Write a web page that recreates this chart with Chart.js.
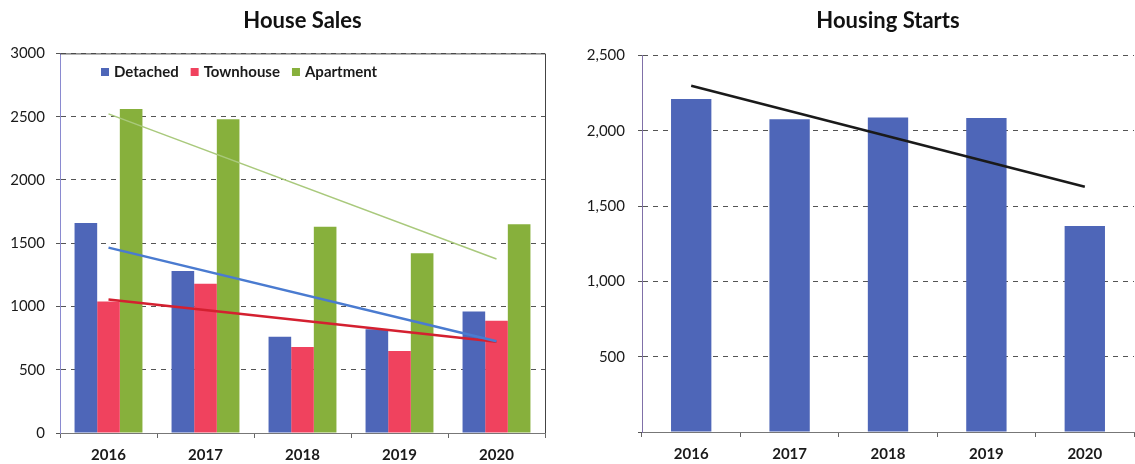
<!DOCTYPE html>
<html lang="en">
<head>
    <meta charset="UTF-8">
    <title>House Sales and Housing Starts</title>
    <script src="https://cdn.jsdelivr.net/npm/chart.js"></script>
    <style>
        body {
            margin: 0;
            background: #fff;
            font-family: Lato, sans-serif;
        }
        .wrap {
            display: flex;
            width: 1135px;
            height: 464px;
        }
        #salesBox { width: 560px; height: 464px; }
        #startsBox { width: 575px; height: 464px; }
    </style>
</head>
<body>
    <div class="wrap">
        <div id="salesBox"><canvas id="salesChart"></canvas></div>
        <div id="startsBox"><canvas id="startsChart"></canvas></div>
    </div>

    <script>
        // data
        const years = ['2016', '2017', '2018', '2019', '2020'];
        const detached = [1660, 1280, 760, 820, 960];
        const townhouse = [1040, 1180, 680, 648, 888];
        const apartment = [2560, 2480, 1630, 1420, 1650];
        // trend line end points (first and last year)
        const detachedTrend = [1465, null, null, null, 725];
        const townhouseTrend = [1055, null, null, null, 722];
        const apartmentTrend = [2522, null, null, null, 1375];

        const starts = [2210, 2076, 2087, 2085, 1368];
        const startsTrend = [2298, null, null, null, 1628];

        const salesTicks = [0, 500, 1000, 1500, 2000, 2500, 3000];
        const startsTicks = [0, 500, 1000, 1500, 2000, 2500];

        const BLUE = '#4e66b8';
        const RED = '#f0425e';
        const GREEN = '#87b03c';

        // legend drawn inside the plot area, like the original
        const innerLegend = {
            id: 'innerLegend',
            afterDraw(chart) {
                const ctx = chart.ctx;
                let x = 101;
                const y = 72;
                ctx.save();
                ctx.font = 'bold 15px Lato, sans-serif';
                ctx.textBaseline = 'middle';
                chart.data.datasets.filter(d => d.type !== 'line').forEach(d => {
                    ctx.fillStyle = d.backgroundColor;
                    ctx.fillRect(x, y - 4, 8, 8);
                    ctx.fillStyle = '#1a1a1a';
                    ctx.fillText(d.label, x + 13, y);
                    x += 13 + ctx.measureText(d.label).width + 12;
                });
                ctx.restore();
            }
        };

        const boxBorder = {
            id: 'boxBorder',
            afterDraw(chart) {
                const a = chart.chartArea;
                const ctx = chart.ctx;
                ctx.save();
                ctx.strokeStyle = '#444';
                ctx.lineWidth = 1;
                ctx.beginPath();
                ctx.moveTo(a.left, a.top + 0.5);
                ctx.lineTo(a.right + 0.5, a.top + 0.5);
                ctx.lineTo(a.right + 0.5, a.bottom);
                ctx.stroke();
                ctx.restore();
            }
        };

        function trendLine(label, data, color, width) {
            return {
                type: 'line',
                label: label,
                data: data,
                borderColor: color,
                borderWidth: width,
                pointRadius: 0,
                spanGaps: true,
                fill: false,
                order: 1
            };
        }

        function yScale(ticks, fmt, axisColor, width, pad) {
            return {
                min: ticks[0],
                max: ticks[ticks.length - 1],
                afterBuildTicks: s => { s.ticks = ticks.map(v => ({ value: v })); },
                afterFit: s => { s.width = width; },
                ticks: {
                    color: '#1a1a1a',
                    font: { family: 'Lato', size: 15 },
                    padding: pad,
                    callback: fmt
                },
                grid: {
                    color: '#555',
                    tickLength: 4,
                    lineWidth: 1
                },
                border: { color: axisColor, dash: [5, 5] }
            };
        }

        function xScale(h) {
            return {
                grid: {
                    offset: true,
                    drawOnChartArea: false,
                    tickLength: 5,
                    color: '#666'
                },
                border: { color: '#777' },
                ticks: {
                    color: '#1a1a1a',
                    font: { family: 'Lato', size: 15, weight: 'bold' },
                    padding: 8
                },
                afterFit: s => { s.height = h; }
            };
        }

        function titleOpts(text, bottom) {
            return {
                display: true,
                fullSize: false,
                text: text,
                color: '#111',
                font: { family: 'Lato', size: 22, weight: 'bold' },
                padding: { top: 8, bottom: bottom }
            };
        }

        new Chart(document.getElementById('salesChart'), {
            data: {
                labels: years,
                datasets: [
                    { type: 'bar', label: 'Detached', data: detached, backgroundColor: BLUE, order: 2 },
                    { type: 'bar', label: 'Townhouse', data: townhouse, backgroundColor: RED, order: 2 },
                    { type: 'bar', label: 'Apartment', data: apartment, backgroundColor: GREEN, order: 2 },
                    trendLine('Detached trend', detachedTrend, '#4a7bd0', 2.5),
                    trendLine('Townhouse trend', townhouseTrend, '#d42030', 2.5),
                    trendLine('Apartment trend', apartmentTrend, '#a9c97c', 1.5)
                ]
            },
            options: {
                responsive: true,
                maintainAspectRatio: false,
                animation: false,
                datasets: { bar: { categoryPercentage: 0.7, barPercentage: 1.0 } },
                layout: { padding: { left: 0, right: 15, top: 0, bottom: 0 } },
                scales: {
                    x: xScale(31),
                    y: yScale(salesTicks, v => String(v), '#8a8ad0', 60, 11)
                },
                plugins: {
                    legend: { display: false },
                    tooltip: { enabled: false },
                    title: titleOpts('House Sales', 19)
                }
            },
            plugins: [innerLegend, boxBorder]
        });

        new Chart(document.getElementById('startsChart'), {
            data: {
                labels: years,
                datasets: [
                    { type: 'bar', label: 'Housing Starts', data: starts, backgroundColor: BLUE, order: 2 },
                    trendLine('Trend', startsTrend, '#1a1a1a', 2.5)
                ]
            },
            options: {
                responsive: true,
                maintainAspectRatio: false,
                animation: false,
                datasets: { bar: { categoryPercentage: 0.82, barPercentage: 0.5 } },
                layout: { padding: { left: 0, right: 1, top: 0, bottom: 0 } },
                scales: {
                    x: xScale(32),
                    y: yScale(startsTicks, v => v === 0 ? '' : v.toLocaleString('en-US'), '#8070a8', 82, 13)
                },
                plugins: {
                    legend: { display: false },
                    tooltip: { enabled: false },
                    title: titleOpts('Housing Starts', 21)
                }
            }
        });
    </script>
</body>
</html>
